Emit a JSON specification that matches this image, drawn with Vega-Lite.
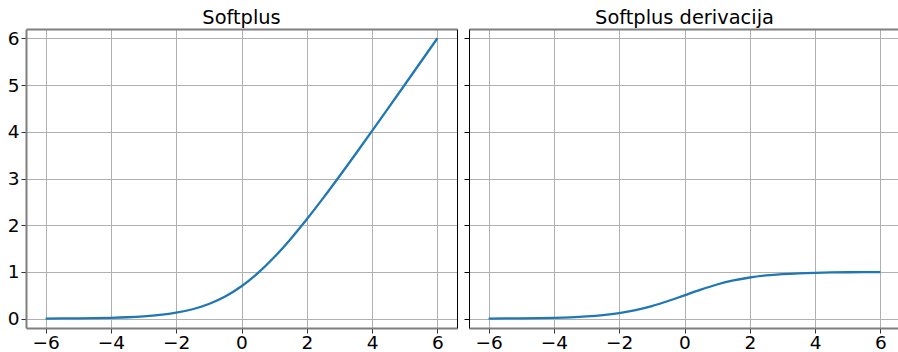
{
  "$schema": "https://vega.github.io/schema/vega-lite/v6.json",
  "autosize": {"type": "pad"},
  "padding": {"left": 7, "top": 8, "right": 0, "bottom": 0},
  "bounds": "flush",
  "spacing": 12,
  "config": {
    "view": {"stroke": null},
    "font": "DejaVu Sans",
    "axis": {
      "labelFont": "DejaVu Sans",
      "labelFontSize": 18.5,
      "labelColor": "#000000",
      "gridColor": "#b0b0b0",
      "gridWidth": 1,
      "gridOpacity": 1,
      "tickColor": "#333333",
      "tickSize": 5,
      "tickWidth": 1,
      "domainColor": "#7f7f7f",
      "domainWidth": 2,
      "title": null,
      "labelPadding": 2
    },
    "axisBottom": {"labelPadding": 0.5},
    "title": {"font": "DejaVu Sans", "fontSize": 19.4, "fontWeight": "normal", "color": "#000000", "offset": 0.5, "baseline": "alphabetic", "anchor": "middle"}
  },
  "datasets": {
    "sp": [
      {"x": -6, "softplus": 0.002476, "deriv": 0.002473},
      {"x": -5.5, "softplus": 0.004079, "deriv": 0.004070},
      {"x": -5, "softplus": 0.006715, "deriv": 0.006693},
      {"x": -4.5, "softplus": 0.011048, "deriv": 0.010987},
      {"x": -4, "softplus": 0.018150, "deriv": 0.017986},
      {"x": -3.5, "softplus": 0.029750, "deriv": 0.029312},
      {"x": -3, "softplus": 0.048587, "deriv": 0.047426},
      {"x": -2.5, "softplus": 0.078889, "deriv": 0.075858},
      {"x": -2, "softplus": 0.126928, "deriv": 0.119203},
      {"x": -1.5, "softplus": 0.201413, "deriv": 0.182426},
      {"x": -1, "softplus": 0.313262, "deriv": 0.268941},
      {"x": -0.5, "softplus": 0.474077, "deriv": 0.377541},
      {"x": 0, "softplus": 0.693147, "deriv": 0.5},
      {"x": 0.5, "softplus": 0.974077, "deriv": 0.622459},
      {"x": 1, "softplus": 1.313262, "deriv": 0.731059},
      {"x": 1.5, "softplus": 1.701413, "deriv": 0.817574},
      {"x": 2, "softplus": 2.126928, "deriv": 0.880797},
      {"x": 2.5, "softplus": 2.578889, "deriv": 0.924142},
      {"x": 3, "softplus": 3.048587, "deriv": 0.952574},
      {"x": 3.5, "softplus": 3.529750, "deriv": 0.970688},
      {"x": 4, "softplus": 4.018150, "deriv": 0.982014},
      {"x": 4.5, "softplus": 4.511048, "deriv": 0.989013},
      {"x": 5, "softplus": 5.006715, "deriv": 0.993307},
      {"x": 5.5, "softplus": 5.504079, "deriv": 0.995930},
      {"x": 6, "softplus": 6.002476, "deriv": 0.997527}
    ]
  },
  "hconcat": [
    {
      "width": 431,
      "height": 299,
      "title": {"text": "Softplus"},
      "data": {"name": "sp"},
      "layer": [
        {
          "mark": {"type": "line", "stroke": "#1f77b4", "strokeWidth": 2.3, "interpolate": "monotone"},
          "encoding": {
            "x": {"field": "x", "type": "quantitative", "scale": {"domain": [-6.6, 6.6], "nice": false, "zero": false},
                  "axis": {"orient": "bottom", "values": [-6, -4, -2, 0, 2, 4, 6], "format": "d"}},
            "y": {"field": "softplus", "type": "quantitative", "scale": {"domain": [-0.2, 6.2], "nice": false, "zero": false},
                  "axis": {"orient": "left", "values": [0, 1, 2, 3, 4, 5, 6], "format": "d"}}
          }
        },
        {
          "mark": {"type": "line", "strokeOpacity": 0},
          "encoding": {
            "x": {"field": "x", "type": "quantitative", "axis": {"orient": "top", "labels": false, "ticks": false, "grid": false}},
            "y": {"field": "softplus", "type": "quantitative", "axis": {"orient": "right", "labels": false, "ticks": false, "grid": false, "domainColor": "#000000", "domainWidth": 1}}
          }
        }
      ]
    },
    {
      "width": 431,
      "height": 299,
      "title": {"text": "Softplus derivacija"},
      "data": {"name": "sp"},
      "layer": [
        {
          "mark": {"type": "line", "stroke": "#1f77b4", "strokeWidth": 2.3, "interpolate": "monotone"},
          "encoding": {
            "x": {"field": "x", "type": "quantitative", "scale": {"domain": [-6.6, 6.6], "nice": false, "zero": false},
                  "axis": {"orient": "bottom", "values": [-6, -4, -2, 0, 2, 4, 6], "format": "d"}},
            "y": {"field": "deriv", "type": "quantitative", "scale": {"domain": [-0.2, 6.2], "nice": false, "zero": false},
                  "axis": {"orient": "left", "values": [0, 1, 2, 3, 4, 5, 6], "labels": false, "tickColor": "#000000", "domainColor": "#000000", "domainWidth": 1}}
          }
        },
        {
          "mark": {"type": "line", "strokeOpacity": 0},
          "encoding": {
            "x": {"field": "x", "type": "quantitative", "axis": {"orient": "top", "labels": false, "ticks": false, "grid": false}},
            "y": {"field": "deriv", "type": "quantitative", "axis": {"orient": "right", "labels": false, "ticks": false, "grid": false}}
          }
        }
      ]
    }
  ]
}
